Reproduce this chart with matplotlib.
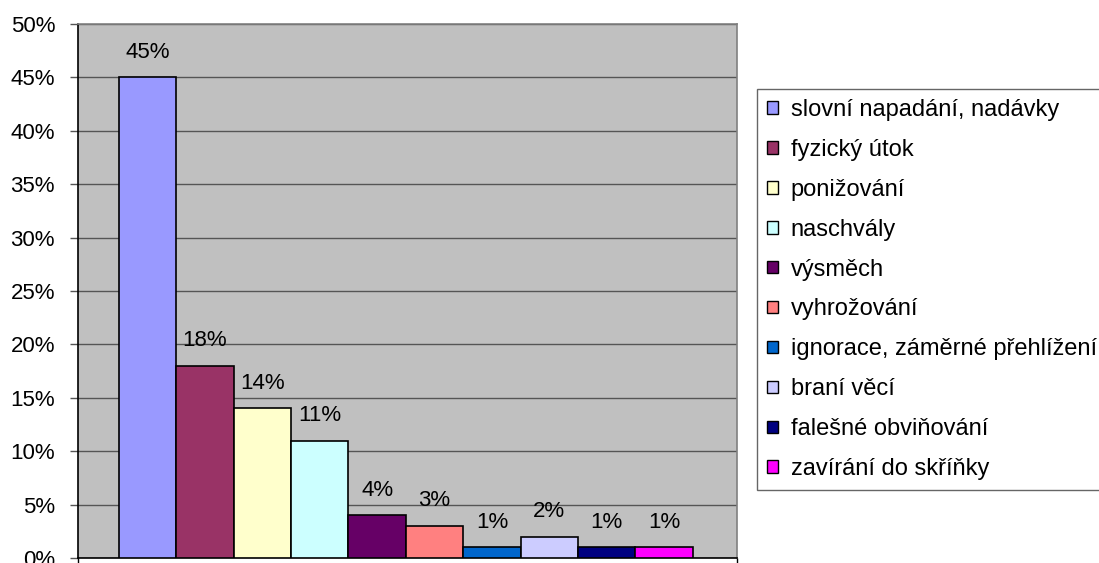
import matplotlib.pyplot as plt
import numpy as np

# Data
categories = ['slovní napadání, nadávky', 'fyzický útok', 'ponižování', 'naschvály',
              'výsměch', 'vyhrožování', 'ignorace, záměrné přehlížení', 'braní věcí',
              'falešné obviňování', 'zavírání do skříňky']
values = [45, 18, 14, 11, 4, 3, 1, 2, 1, 1]
colors = ['#9999FF', '#993366', '#FFFFCC', '#CCFFFF', '#660066',
          '#FF8080', '#0066CC', '#CCCCFF', '#000080', '#FF00FF']
yticks = [0, 5, 10, 15, 20, 25, 30, 35, 40, 45, 50]

plt.rcParams['font.family'] = ['Liberation Sans', 'DejaVu Sans']
fs = 16.0

fig = plt.figure(figsize=(10.99, 5.63), dpi=100)
ax = fig.add_axes([78/1099, 5/563, (737-78)/1099, (558-24)/563])
ax.set_facecolor('#C0C0C0')

x = np.arange(len(values))
bars = ax.bar(x, values, width=1.0, color=colors, edgecolor='black', linewidth=1.2,
              zorder=3)

# Data labels
for xi, v in zip(x, values):
    ax.annotate(f'{v}%', (xi, v), xytext=(0, 18), textcoords='offset points',
                ha='center', va='center', fontsize=fs, zorder=4)

ax.set_ylim(0, 50)
ax.set_xlim(-0.5 - 0.71, 9.5 + 0.77)
ax.set_yticks(yticks)
ax.set_yticklabels([f'{t}%' for t in yticks], fontsize=fs)
ax.yaxis.grid(True, color='#555555', linewidth=1.0, zorder=1)
ax.tick_params(axis='y', direction='out', length=6, width=1, color='#555555', pad=10.5)
ax.set_xticks([-1.21, 10.27])
ax.set_xticklabels(['', ''])
ax.tick_params(axis='x', direction='out', length=4, width=1, color='black')

for s in ['left', 'bottom']:
    ax.spines[s].set_color('black')
    ax.spines[s].set_linewidth(1.2)
for s in ['top', 'right']:
    ax.spines[s].set_color('#808080')
    ax.spines[s].set_linewidth(1.2)

# Legend
handles = [plt.Rectangle((0, 0), 1, 1, facecolor=c, edgecolor='black', linewidth=1.0)
           for c in colors]
leg = fig.legend(handles, categories, loc='center left',
                 bbox_to_anchor=(757/1099, 1 - 289.5/563), fontsize=17,
                 frameon=True, fancybox=False, edgecolor='#404040',
                 handlelength=0.45, handleheight=0.45, handletextpad=0.55,
                 labelspacing=0.76, borderpad=0.42, borderaxespad=0)
leg.get_frame().set_linewidth(1.0)

fig.savefig('out.png', dpi=100)
